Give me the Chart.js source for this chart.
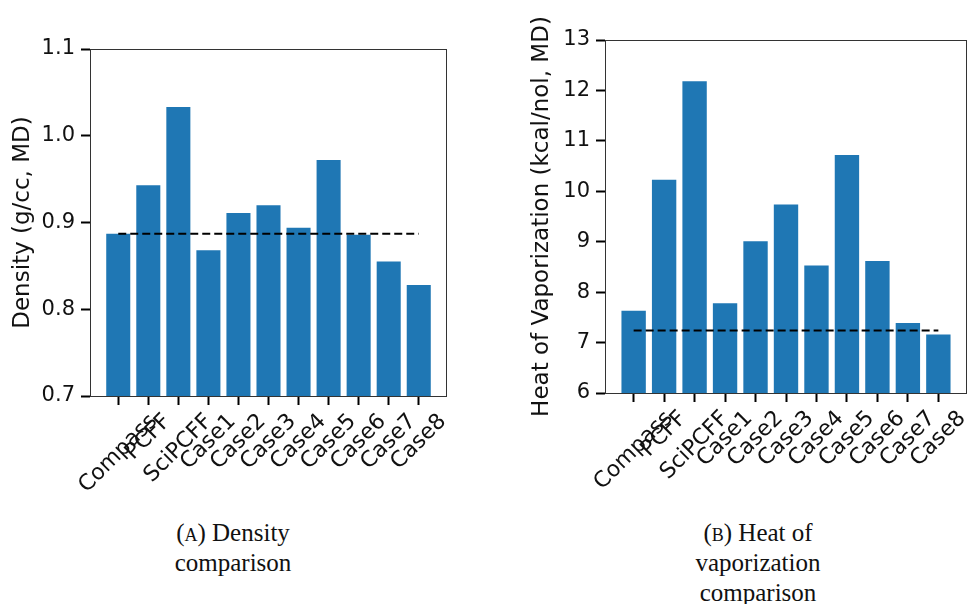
<!DOCTYPE html>
<html>
<head>
<meta charset="utf-8">
<script src="https://cdn.jsdelivr.net/npm/chart.js@4.4.1/dist/chart.umd.min.js"></script>
<style>
  body { margin: 0; background: #fff; width: 968px; height: 604px; position: relative; overflow: hidden; }
  canvas { position: absolute; top: 0; }
  #density-chart { left: 0; }
  #hvap-chart { left: 480px; }
  .caption {
    position: absolute; top: 518px; width: 260px; text-align: center;
    font-family: "Liberation Serif", serif; font-size: 25px; line-height: 30px; color: #111;
  }
  .sc { font-variant: small-caps; }
</style>
</head>
<body>
<canvas id="density-chart" width="480" height="510"></canvas>
<canvas id="hvap-chart" width="488" height="510"></canvas>
<div class="caption" style="left: 103px;">(<span class="sc">a</span>) Density<br>comparison</div>
<div class="caption" style="left: 628px;">(<span class="sc">b</span>) Heat of<br>vaporization<br>comparison</div>
<script>
// force fields compared against the experimental reference
const forceFields = ['Compass', 'PCFF', 'SciPCFF', 'Case1', 'Case2', 'Case3', 'Case4', 'Case5', 'Case6', 'Case7', 'Case8'];

// density, g/cc from MD
const densityValues = [0.887, 0.943, 1.033, 0.868, 0.911, 0.920, 0.894, 0.972, 0.886, 0.855, 0.828];
const densityRef = 0.887;
const densityTicks = [0.7, 0.8, 0.9, 1.0, 1.1];

// heat of vaporization, kcal/mol from MD
const hvapValues = [7.63, 10.23, 12.18, 7.78, 9.01, 9.74, 8.53, 10.72, 8.62, 7.39, 7.16];
const hvapRef = 7.24;
const hvapTicks = [6, 7, 8, 9, 10, 11, 12, 13];

const BAR_BLUE = '#1f77b4';
const TICK_FONT = 21;
const LABEL_FONT = 22;
Chart.defaults.font.family = '"DejaVu Sans", sans-serif';
Chart.defaults.color = '#111';

// full box around the plot area
const frame = {
    id: 'frame',
    afterDraw(chart) {
        const { ctx, chartArea: a } = chart;
        ctx.save();
        ctx.strokeStyle = '#333';
        ctx.lineWidth = 1;
        ctx.strokeRect(Math.round(a.left) + 0.5, Math.round(a.top) + 0.5,
            Math.round(a.right - a.left) - 1, Math.round(a.bottom - a.top));
        ctx.restore();
    }
};

// 45 degree category labels, each centred under its tick
const slantedLabels = {
    id: 'slantedLabels',
    afterDraw(chart) {
        const xs = chart.scales.x;
        const ctx = chart.ctx;
        const c = Math.SQRT1_2;
        const h = LABEL_FONT * 1.16;
        const top = xs.top + 9 + 4;
        ctx.save();
        ctx.font = LABEL_FONT + 'px "DejaVu Sans"';
        ctx.fillStyle = '#111';
        ctx.textAlign = 'right';
        ctx.textBaseline = 'middle';
        forceFields.forEach((name, i) => {
            const w = ctx.measureText(name).width;
            const px = xs.getPixelForValue(i) + w * c / 2;
            const py = top + h * c / 2;
            ctx.save();
            ctx.translate(px, py);
            ctx.rotate(-Math.PI / 4);
            ctx.fillText(name, 0, 0);
            ctx.restore();
        });
        ctx.restore();
    }
};

function makeChart(canvasId, values, ref, ticks, title, box) {
    const ctx = document.getElementById(canvasId).getContext('2d');
    return new Chart(ctx, {
        type: 'bar',
        data: {
            datasets: [
                {
                    type: 'line',
                    data: [{ x: 0, y: ref }, { x: forceFields.length - 1, y: ref }],
                    borderColor: '#000',
                    borderWidth: 2,
                    borderDash: [8, 4],
                    pointRadius: 0,
                    order: 0
                },
                {
                    data: values.map((v, i) => ({ x: i, y: v })),
                    backgroundColor: BAR_BLUE,
                    borderWidth: 0,
                    categoryPercentage: 1.0,
                    barPercentage: 0.8,
                    order: 1
                }
            ]
        },
        options: {
            responsive: false,
            animation: false,
            layout: { padding: { left: box.padLeft, top: box.padTop, right: box.padRight, bottom: 0 } },
            plugins: { legend: { display: false }, tooltip: { enabled: false } },
            scales: {
                x: {
                    type: 'linear',
                    offset: false,
                    min: -0.94,
                    max: forceFields.length - 1 + 0.94,
                    afterBuildTicks: axis => { axis.ticks = forceFields.map((_, i) => ({ value: i })); },
                    afterFit: scale => { scale.height = box.xHeight; },
                    ticks: { display: false },
                    grid: { offset: false, drawOnChartArea: false, tickLength: 9, tickWidth: 2, tickColor: '#000' },
                    border: { display: false }
                },
                y: {
                    min: ticks[0],
                    max: ticks[ticks.length - 1],
                    afterBuildTicks: axis => { axis.ticks = ticks.map(v => ({ value: v })); },
                    afterFit: scale => { scale.width = box.yWidth; },
                    ticks: {
                        padding: 6,
                        font: { size: TICK_FONT },
                        callback: v => (ticks[0] < 1 ? v.toFixed(1) : String(v))
                    },
                    grid: { drawOnChartArea: false, tickLength: 9, tickWidth: 2, tickColor: '#000' },
                    border: { display: false },
                    title: { display: true, text: title, font: { size: 23 }, padding: { top: box.titlePad, bottom: 0 } }
                }
            }
        },
        plugins: [frame, slantedLabels]
    });
}

makeChart('density-chart', densityValues, densityRef, densityTicks, 'Density (g/cc, MD)',
    { padLeft: 0, padTop: 49, padRight: 33, yWidth: 90, xHeight: 114, titlePad: 9 });

makeChart('hvap-chart', hvapValues, hvapRef, hvapTicks, 'Heat of Vaporization (kcal/nol, MD)',
    { padLeft: 45, padTop: 40, padRight: 1, yWidth: 80, xHeight: 117, titlePad: 3 });
</script>
</body>
</html>
